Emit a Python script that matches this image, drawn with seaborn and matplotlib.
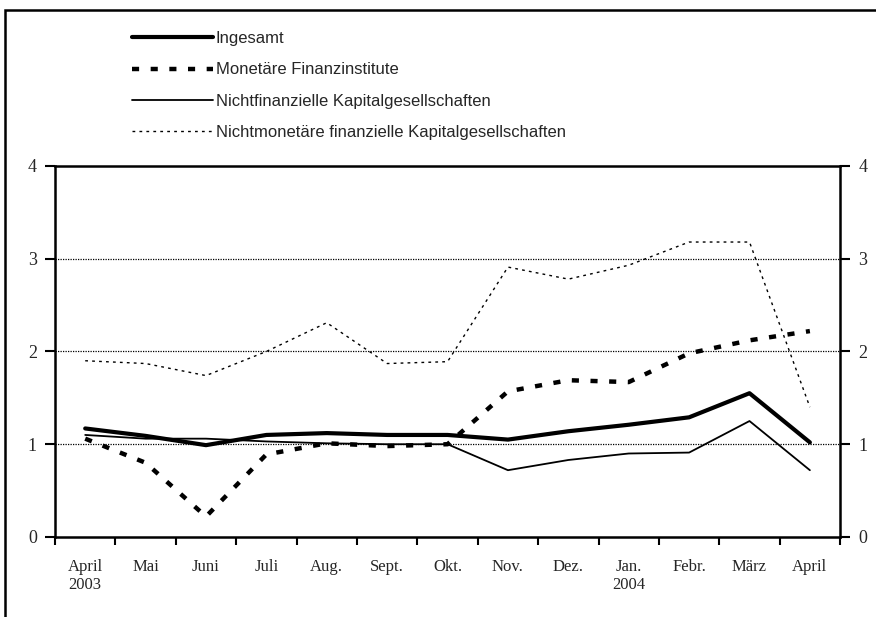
import numpy as np
import pandas as pd
import matplotlib
matplotlib.use("Agg")
import matplotlib.pyplot as plt
import seaborn as sns
from matplotlib.patches import Rectangle
from matplotlib.ticker import FixedLocator, NullFormatter

sns.set_theme(style="white")
plt.rcParams["font.family"] = ["Liberation Serif", "DejaVu Serif"]

# month labels (x axis)
months = ["April\n2003", "Mai", "Juni", "Juli", "Aug.", "Sept.", "Okt.",
          "Nov.", "Dez.", "Jan.\n2004", "Febr.", "März", "April"]

# series values
ingesamt = [1.17, 1.09, 0.99, 1.10, 1.12, 1.10, 1.10, 1.05, 1.14, 1.21, 1.29, 1.55, 1.02]
monetaer = [1.06, 0.80, 0.22, 0.89, 1.01, 0.98, 1.00, 1.57, 1.69, 1.67, 1.98, 2.12, 2.22]
nichtfin = [1.10, 1.06, 1.06, 1.03, 1.01, 1.00, 1.00, 0.72, 0.83, 0.90, 0.91, 1.25, 0.72]
nichtmon = [1.90, 1.87, 1.74, 2.00, 2.31, 1.87, 1.89, 2.91, 2.78, 2.93, 3.18, 3.18, 1.40]

names = ["Ingesamt", "Monetäre Finanzinstitute",
         "Nichtfinanzielle Kapitalgesellschaften",
         "Nichtmonetäre finanzielle Kapitalgesellschaften"]
values = [ingesamt, monetaer, nichtfin, nichtmon]
styles = [dict(lw=3.0, ls="-"),
          dict(lw=3.2, ls=(0, (1.6, 2.6))),
          dict(lw=1.3, ls="-"),
          dict(lw=1.0, ls=(0, (2, 3)))]

x = np.arange(len(months))

fig = plt.figure(figsize=(8.76, 6.17), dpi=100)
ax = fig.add_axes([0.0628, 0.1297, 0.8962, 0.6013])

# dotted gridlines at 1, 2, 3
for yv in [1, 2, 3]:
    ax.axhline(yv, color="black", lw=0.9, ls=(0, (1, 1)), zorder=1)

handles = []
for name, vals, st in zip(names, values, styles):
    sns.lineplot(x=x, y=vals, ax=ax, color="black", linewidth=st["lw"],
                 linestyle=st["ls"], zorder=3)
    handles.append(plt.Line2D([0], [0], color="black", lw=st["lw"],
                              ls=st["ls"], label=name))

ax.set_xlim(-0.5, len(months) - 0.5)
ax.set_ylim(0, 4)
ax.set_yticks([0, 1, 2, 3, 4])
ax.tick_params(axis="y", which="both", left=True, right=True, labelleft=True,
               labelright=True, direction="out", length=7, width=1.5,
               labelsize=13, pad=6, color="black")

# category boundaries as ticks, labels at centres
ax.xaxis.set_major_locator(FixedLocator(x))
ax.set_xticklabels(months, fontsize=12, linespacing=1.15)
ax.xaxis.set_minor_locator(FixedLocator(np.arange(-0.5, len(months), 1.0)))
ax.xaxis.set_minor_formatter(NullFormatter())
ax.tick_params(axis="x", which="major", length=0, pad=16)
ax.tick_params(axis="x", which="minor", bottom=True, direction="out",
               length=6, width=1.5, color="black")
ax.set_xlabel("")
ax.set_ylabel("")

for sp in ax.spines.values():
    sp.set_visible(True)
    sp.set_color("black")
    sp.set_linewidth(1.8)

leg = fig.legend(handles=handles, loc="upper left",
                 bbox_to_anchor=(0.133, 0.974), frameon=False,
                 handlelength=4.9, handletextpad=0.15, labelspacing=0.98,
                 prop={"family": "Liberation Sans", "size": 12})

# outer frame (right and bottom edge outside the crop)
fig.patches.append(Rectangle((5 / 876, -0.05), 1.2, 1 - 10 / 617 + 0.05,
                             transform=fig.transFigure, fill=False,
                             edgecolor="black", lw=1.8))

fig.savefig("out.png", dpi=100)
